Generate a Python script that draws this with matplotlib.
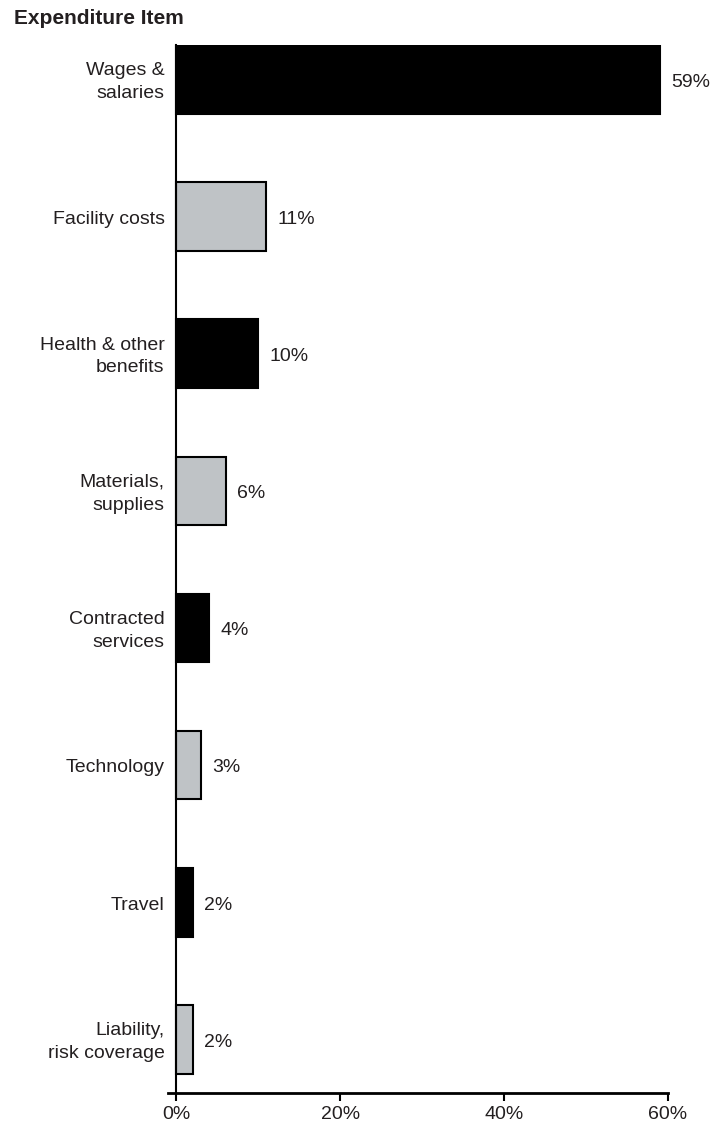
import matplotlib
matplotlib.use("Agg")
import matplotlib.pyplot as plt

plt.rcParams['font.family'] = ['Liberation Sans', 'DejaVu Sans']

items = ['Wages &\nsalaries', 'Facility costs', 'Health & other\nbenefits',
         'Materials,\nsupplies', 'Contracted\nservices', 'Technology',
         'Travel', 'Liability,\nrisk coverage']
shares = [59, 11, 10, 6, 4, 3, 2, 2]
ticks = [0, 20, 40, 60]

ink = '#231f20'
fills = ['#000000' if i % 2 == 0 else '#bfc3c6' for i in range(len(items))]

fig = plt.figure(figsize=(7.26, 11.27), dpi=100)
ax = fig.add_axes([0.2311, 0.0302, 0.920 - 0.2311, 0.960 - 0.0302])

pos = list(range(len(items)))
ax.barh(pos, shares, height=0.5, color=fills, edgecolor='black', linewidth=1.5)

# value labels to the right of each bar
for p, v in zip(pos, shares):
    ax.annotate(f'{v}%', (v, p), xytext=(8, -2), textcoords='offset points',
                va='center', ha='left', fontsize=14, color=ink)

# category names left of the axis (annotate so multi-line spacing sticks)
ax.set_yticks([])
for p, name in zip(pos, items):
    ax.annotate(name, (0, p), xytext=(-8.5, -2), textcoords='offset points',
                va='center', ha='right', multialignment='right',
                linespacing=1.45, fontsize=14, color=ink, annotation_clip=False)

ax.set_xlim(-1.05, 60)
ax.set_ylim(7.39, -0.25)

ax.set_xticks(ticks)
ax.set_xticklabels([f'{t}%' for t in ticks])
ax.tick_params(axis='x', length=5.5, width=1.5, direction='out', pad=4,
               labelsize=14, labelcolor=ink)

ax.spines['left'].set_position(('data', 0))
ax.spines['left'].set_linewidth(1.5)
ax.spines['bottom'].set_linewidth(2)
ax.spines['top'].set_visible(False)
ax.spines['right'].set_visible(False)

fig.text(14 / 726, 1 - 18 / 1127, 'Expenditure Item', fontsize=15,
         fontweight='bold', color=ink, ha='left', va='center')

fig.savefig('out.png', dpi=100)
